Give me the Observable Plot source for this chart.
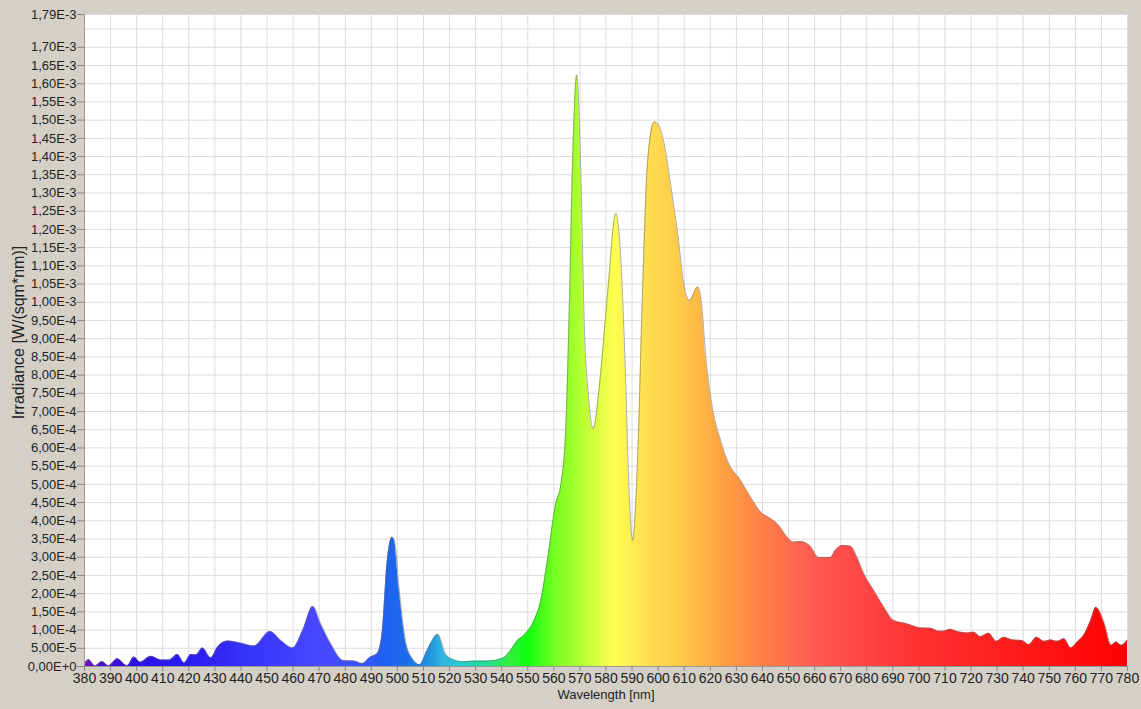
<!DOCTYPE html>
<html>
<head>
<meta charset="utf-8">
<script src="https://cdn.jsdelivr.net/npm/d3@7"></script>
<script src="https://cdn.jsdelivr.net/npm/@observablehq/plot@0.6"></script>
<style>
  html, body { margin: 0; padding: 0; background: #d4d0c8; }
  #chart { width: 1141px; height: 709px; }
</style>
</head>
<body>
<div id="chart"></div>
<script>
// ---- data ----
const wavelength = [
  380, 381.6, 384, 386.8, 389.3, 392.6, 396.4, 399, 401.4, 405.5, 409.3, 412.5, 415.7, 418.3,
  420.8, 422.8, 425.3, 428.5, 431, 434.9, 440, 445.1, 451.2, 455.4, 459.9, 463.7, 467.6, 470.6,
  474.5, 479.4, 483.3, 486.5, 489.7, 492.2, 494.1, 496.1, 498, 498.9, 500.6, 503.1, 505.7, 508.6,
  511.4, 515.5, 518.4, 521, 525.4, 530.6, 534.5, 540.8, 543.4, 546, 548.5, 552.4, 555, 557.5,
  560.7, 562.7, 564.6, 565.9, 567.2, 568.8, 570.4, 571.7, 573.2, 575.1, 577.4, 580.6, 583.8,
  585.7, 587.3, 588.9, 590.2, 592.1, 594, 596, 598.5, 599.8, 602.3, 604.9, 607.5, 610, 612,
  615.2, 616.5, 618.4, 621, 624, 626.5, 631.6, 635.5, 639.3, 643.1, 646.3, 649.5, 652.1, 654.6,
  658.4, 661.6, 666.1, 668, 670.6, 673.8, 676.3, 678.9, 682.7, 686.6, 690.4, 695.5, 700.6,
  704.5, 707.6, 709.5, 712.1, 714.6, 718.5, 721.1, 723.6, 726.8, 729.8, 732.6, 735.8, 739.7,
  742.2, 745.2, 748, 750.6, 753.1, 755.7, 758.3, 760.8, 763.6, 765.9, 767.9, 769.1, 771.2,
  773.8, 775.7, 777.6, 780
];
const irradiance = [
  0.5e-5, 1.9e-5, 0.2e-5, 1.4e-5, 0.2e-5, 2.1e-5, 0.2e-5, 2.6e-5, 1.2e-5, 2.8e-5, 1.8e-5, 1.8e-5, 3.3e-5, 1.0e-5,
  3.3e-5, 3.2e-5, 5.1e-5, 2.4e-5, 5.3e-5, 7.0e-5, 6.4e-5, 5.6e-5, 9.6e-5, 7.1e-5, 5.1e-5, 9.9e-5, 1.65e-4, 1.17e-4,
  6.2e-5, 1.6e-5, 1.5e-5, 0.8e-5, 2.6e-5, 3.5e-5, 9.0e-5, 2.9e-4, 3.55e-4, 3.45e-4, 2.18e-4, 7.1e-5, 2.2e-5, 0.5e-5,
  4.4e-5, 8.8e-5, 3.5e-5, 2.0e-5, 1.3e-5, 1.5e-5, 1.5e-5, 2.4e-5, 4.4e-5, 7.1e-5, 8.5e-5, 1.26e-4, 1.81e-4, 2.9e-4,
  4.47e-4, 5.0e-4, 6.57e-4, 9.78e-4, 1.39e-3, 1.624e-3, 1.344e-3, 9.32e-4, 7.49e-4, 6.53e-4, 7.67e-4, 1.024e-3, 1.244e-3,
  1.115e-3, 8.4e-4, 4.74e-4, 3.46e-4, 5.66e-4, 1.024e-3, 1.39e-3, 1.495e-3, 1.49e-3, 1.436e-3, 1.317e-3, 1.189e-3, 1.042e-3, 1.005e-3,
  1.042e-3, 1.005e-3, 8.4e-4, 7.03e-4, 6.2e-4, 5.66e-4, 5.11e-4, 4.65e-4, 4.24e-4, 4.06e-4, 3.87e-4, 3.55e-4, 3.41e-4, 3.43e-4,
  3.3e-4, 2.99e-4, 2.99e-4, 3.19e-4, 3.32e-4, 3.3e-4, 3.0e-4, 2.55e-4, 2.09e-4, 1.63e-4, 1.26e-4, 1.17e-4, 1.06e-4,
  1.05e-4, 9.7e-5, 9.7e-5, 1.02e-4, 9.6e-5, 9.2e-5, 9.4e-5, 8.2e-5, 9.1e-5, 6.9e-5, 8.0e-5, 7.3e-5, 7.1e-5,
  6.0e-5, 8.0e-5, 6.9e-5, 7.3e-5, 6.9e-5, 7.6e-5, 5.1e-5, 6.7e-5, 9.0e-5, 1.26e-4, 1.63e-4, 1.54e-4, 1.17e-4,
  5.8e-5, 6.7e-5, 5.8e-5, 7.3e-5
];

// tick values / labels
const xTicks = [380, 390, 400, 410, 420, 430, 440, 450, 460, 470, 480, 490, 500, 510, 520, 530, 540, 550, 560, 570,
  580, 590, 600, 610, 620, 630, 640, 650, 660, 670, 680, 690, 700, 710, 720, 730, 740, 750, 760, 770, 780];
const yTicks = [0, 5e-5, 1e-4, 1.5e-4, 2e-4, 2.5e-4, 3e-4, 3.5e-4, 4e-4, 4.5e-4, 5e-4, 5.5e-4, 6e-4, 6.5e-4, 7e-4,
  7.5e-4, 8e-4, 8.5e-4, 9e-4, 9.5e-4, 1e-3, 1.05e-3, 1.1e-3, 1.15e-3, 1.2e-3, 1.25e-3, 1.3e-3, 1.35e-3, 1.4e-3,
  1.45e-3, 1.5e-3, 1.55e-3, 1.6e-3, 1.65e-3, 1.7e-3, 1.79e-3];
const yGrid = [...yTicks.slice(0, -1), 1.75e-3, 1.79e-3];

// spectral colours of the fill (wavelength -> colour)
const stopNm = [380, 390, 400, 420, 440, 460, 470, 485, 495, 505, 512, 518, 525, 535, 543, 550, 560, 570, 583, 595,
  610, 625, 640, 660, 680, 700, 730, 780];
const stopColor = ["#7010c0", "#4010d8", "#2a10e8", "#2a1cf0", "#3530f5", "#4040ff", "#4848ff", "#3a50ff", "#2060f0",
  "#1a70e8", "#2090e0", "#30b8e0", "#20d0c8", "#20e090", "#30f040", "#10ff10", "#70ff20", "#b0ff30", "#ffff50",
  "#ffe050", "#ffc848", "#ffa040", "#ff8048", "#ff5a50", "#ff4444", "#ff3030", "#ff2020", "#ff0000"];

const data = wavelength.map((w, i) => ({w, v: irradiance[i]}));
const fmt = v => v.toExponential(2).replace(".", ",").replace("e", "E");
const font = "Arial, 'Liberation Sans', sans-serif";

const gradientMark = (index, scales) => {
  const ns = "http://www.w3.org/2000/svg";
  const defs = document.createElementNS(ns, "defs");
  const g = document.createElementNS(ns, "linearGradient");
  g.setAttribute("id", "spectrum");
  g.setAttribute("gradientUnits", "userSpaceOnUse");
  g.setAttribute("x1", scales.x(380));
  g.setAttribute("x2", scales.x(780));
  g.setAttribute("y1", 0);
  g.setAttribute("y2", 0);
  stopNm.forEach((nm, i) => {
    const s = document.createElementNS(ns, "stop");
    s.setAttribute("offset", (nm - 380) / 400);
    s.setAttribute("stop-color", stopColor[i]);
    g.appendChild(s);
  });
  defs.appendChild(g);
  return defs;
};

const chart = Plot.plot({
  width: 1141,
  height: 709,
  marginLeft: 84,
  marginRight: 14,
  marginTop: 14,
  marginBottom: 43,
  style: {background: "transparent", fontFamily: font, color: "#222"},
  x: {domain: [380, 780]},
  y: {domain: [0, 1.79e-3]},
  marks: [
    gradientMark,
    Plot.frame({fill: "white", stroke: "none"}),
    Plot.ruleX(xTicks, {stroke: "#dcdcdc", strokeWidth: 1}),
    Plot.ruleY(yGrid, {stroke: "#dcdcdc", strokeWidth: 1}),
    Plot.areaY(data, {x: "w", y: "v", curve: "monotone-x", fill: "url(#spectrum)"}),
    Plot.lineY(data, {x: "w", y: "v", curve: "monotone-x", stroke: "#6e6e6e", strokeWidth: 0.7, strokeOpacity: 0.8}),
    Plot.ruleX([380], {stroke: "#9a9a9a"}),
    Plot.ruleY([0], {stroke: "#9a9a9a"}),
    Plot.axisX({ticks: xTicks, tickFormat: d => String(d), tickSize: 5, tickPadding: 2, fontSize: 14, stroke: "#888", label: null}),
    Plot.axisY({ticks: yTicks, tickFormat: fmt, tickSize: 7, tickPadding: 1, fontSize: 13, stroke: "#888", label: null}),
    Plot.text(["Wavelength [nm]"], {frameAnchor: "bottom", dy: 32, fontSize: 13, fill: "#222"}),
    Plot.text(["Irradiance [W/(sqm*nm)]"], {frameAnchor: "left", textAnchor: "middle", rotate: -90, dx: -66, dy: -8, fontSize: 16, fill: "#222"})
  ]
});
document.getElementById("chart").appendChild(chart);
</script>
</body>
</html>
